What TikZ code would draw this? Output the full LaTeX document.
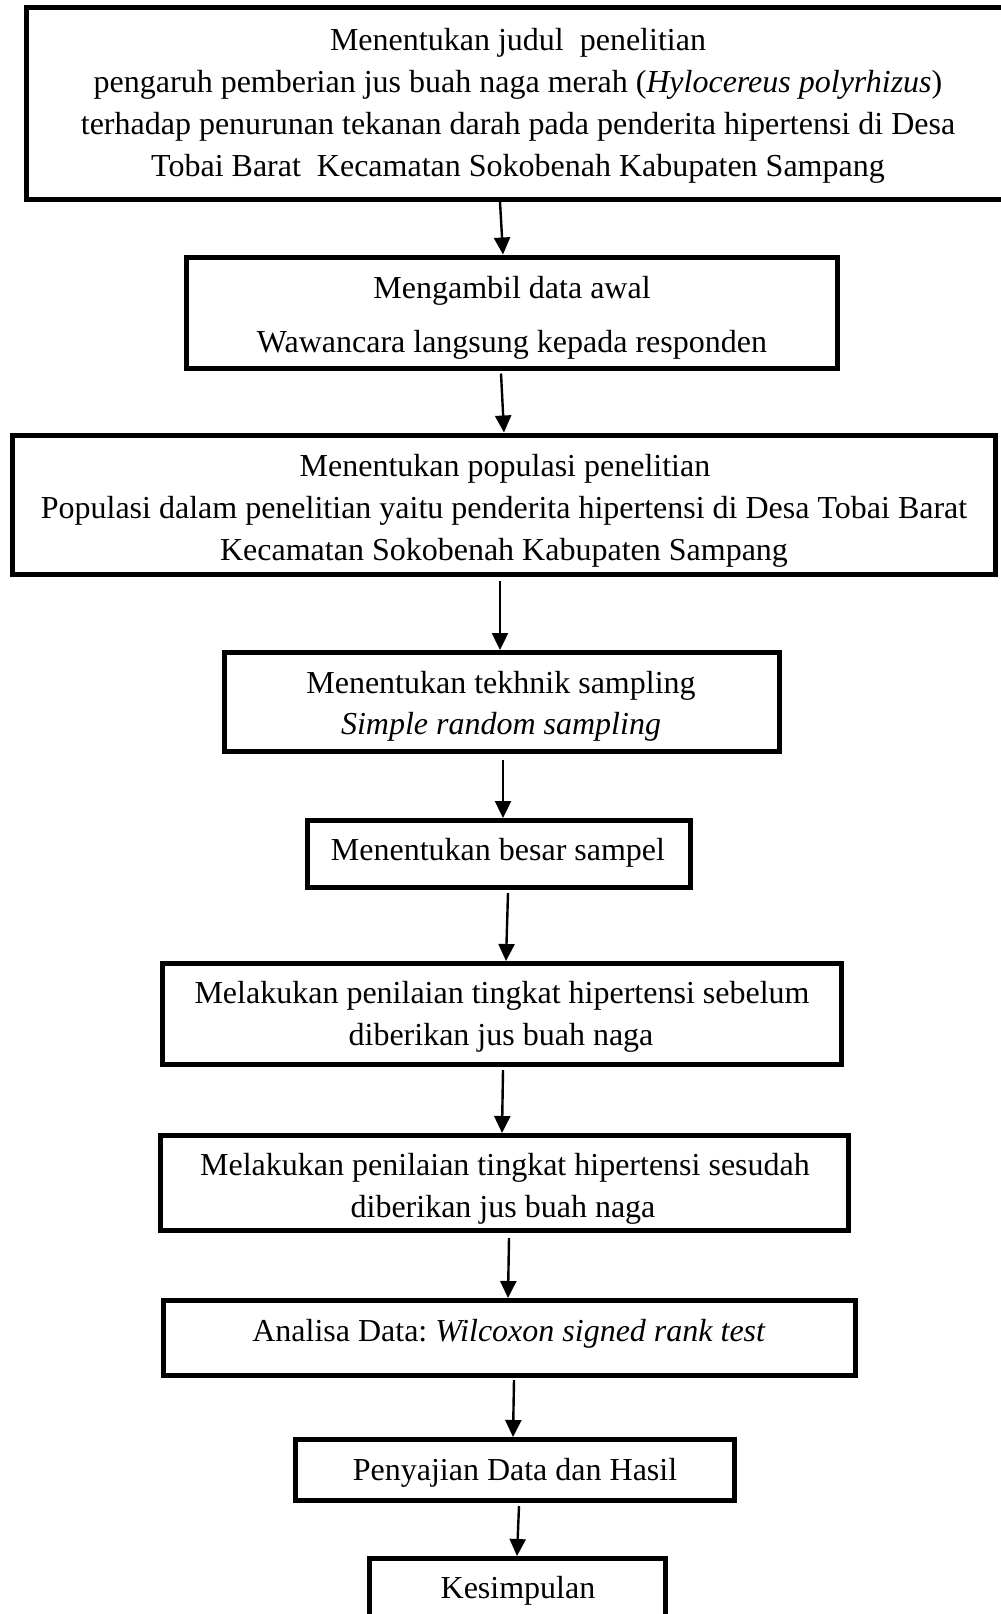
\documentclass[tikz,border=0pt]{standalone}
\usepackage{fontspec}
\setmainfont{Liberation Serif}
\usetikzlibrary{arrows.meta,calc}
\begin{document}
\frenchspacing
\begin{tikzpicture}[x=1pt,y=-1pt,
  box/.style={draw,line width=5pt,rectangle,inner sep=0pt,anchor=center},
  txt/.style={anchor=base,inner sep=0pt,font=\fontsize{32}{42}\selectfont},
  arr/.style={line width=2.4pt,-{Triangle[length=17pt,width=16pt]}}]
\useasboundingbox (0,0) rectangle (1001,1614);
\clip (0,0) rectangle (1001,1614);
\fill[white] (0,0) rectangle (1001,1614);

% boxes
\node[box,minimum width=984pt,minimum height=192pt] (b1) at (518,103.5) {};
\node[box,minimum width=651pt,minimum height=111pt] (b2) at (512,312.5) {};
\node[box,minimum width=983pt,minimum height=139pt] (b3) at (504,504.5) {};
\node[box,minimum width=555pt,minimum height=99pt] (b4) at (502,702) {};
\node[box,minimum width=383pt,minimum height=67pt] (b5) at (499,854) {};
\node[box,minimum width=679pt,minimum height=101pt] (b6) at (502,1014) {};
\node[box,minimum width=688pt,minimum height=95pt] (b7) at (504.5,1183) {};
\node[box,minimum width=692pt,minimum height=75pt] (b8) at (509.5,1338) {};
\node[box,minimum width=439pt,minimum height=61pt] (b9) at (515,1470) {};
\node[box,minimum width=296pt,minimum height=82pt] (b10) at (517.5,1599.5) {};

% texts
\node[txt] (t1a) at (518,50) {Menentukan judul~ penelitian};
\node[txt] (t1b) at (518,92) {pengaruh pemberian jus buah naga merah (\textit{Hylocereus polyrhizus})};
\node[txt] (t1c) at (518,134) {terhadap penurunan tekanan darah pada penderita hipertensi di Desa};
\node[txt] (t1d) at (518,176) {Tobai Barat~ Kecamatan Sokobenah Kabupaten Sampang};

\node[txt] (t2a) at (512,298) {Mengambil data awal};
\node[txt] (t2b) at (512,352) {Wawancara langsung kepada responden};

\node[txt] (t3a) at (505,476) {Menentukan populasi penelitian};
\node[txt] (t3b) at (504,518) {Populasi dalam penelitian yaitu penderita hipertensi di Desa Tobai Barat};
\node[txt] (t3c) at (504,560) {Kecamatan Sokobenah Kabupaten Sampang};

\node[txt] (t4a) at (501,693) {Menentukan tekhnik sampling};
\node[txt] (t4b) at (501,734) {\textit{Simple random sampling}};

\node[txt] (t5) at (498,860) {Menentukan besar sampel};

\node[txt] (t6a) at (502,1003) {Melakukan penilaian tingkat hipertensi sebelum};
\node[txt] (t6b) at (501,1045) {diberikan jus buah naga};

\node[txt] (t7a) at (505,1175) {Melakukan penilaian tingkat hipertensi sesudah};
\node[txt] (t7b) at (503,1217) {diberikan jus buah naga};

\node[txt] (t8) at (509,1341) {Analisa Data: \textit{Wilcoxon signed rank test}};

\node[txt] (t9) at (515,1480) {Penyajian Data dan Hasil};

\node[txt] (t10) at (518,1598) {Kesimpulan};

% connectors
\draw[arr] ($(b1.south)+(-18,0)$) -- ($(b2.north)+(-9,0)$);
\draw[arr] ($(b2.south)+(-11,3)$) -- ($(b3.north)+(0,0)$);
\draw[arr] ($(b3.south)+(-4,4)$) -- ($(b4.north)+(-2,0)$);
\draw[arr] ($(b4.south)+(1,6)$) -- ($(b5.north)+(4,0)$);
\draw[arr] ($(b5.south)+(9,3)$) -- ($(b6.north)+(4,0)$);
\draw[arr] ($(b6.south)+(1,3)$) -- ($(b7.north)+(-2.5,0)$);
\draw[arr] ($(b7.south)+(4.5,5)$) -- ($(b8.north)+(-1.5,0)$);
\draw[arr] ($(b8.south)+(4.5,2)$) -- ($(b9.north)+(-2,0)$);
\draw[arr] ($(b9.south)+(4,3)$) -- ($(b10.north)+(-0.5,0)$);
\end{tikzpicture}
\end{document}
